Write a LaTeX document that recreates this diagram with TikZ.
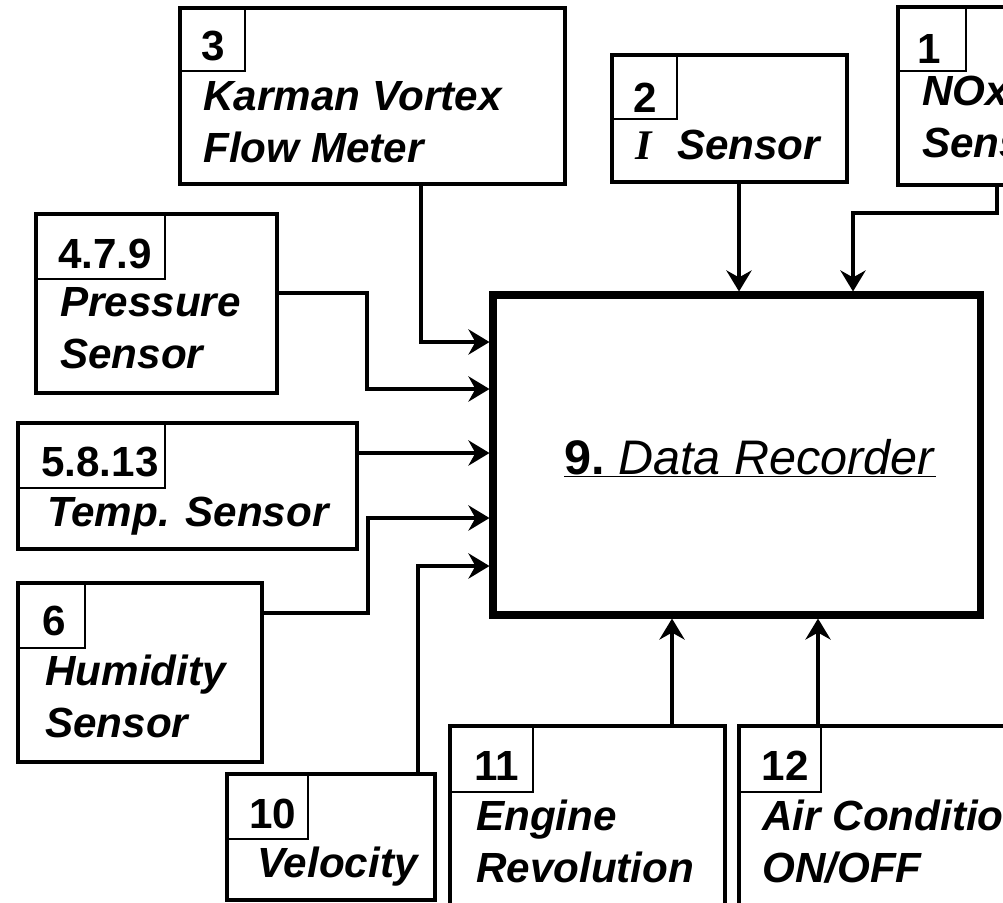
\documentclass[tikz,border=0pt]{standalone}
\usepackage{fontspec}
\setmainfont{Liberation Sans}
\newfontfamily\lamfont{Liberation Serif}
\usetikzlibrary{arrows.meta, fit, calc}

\begin{document}
\begin{tikzpicture}[x=0.025cm, y=-0.025cm,
  every node/.style={font=\fontsize{30}{36}\selectfont\bfseries},
  sensor/.style={draw, line width=2.4pt, inner sep=0pt},
  numcell/.style={draw, line width=1.4pt, inner sep=0pt},
  recorder/.style={draw, line width=5pt, inner sep=0pt},
  num/.style={anchor=base, inner sep=0pt},
  lbl/.style={anchor=base west, inner sep=0pt, align=left,
              font=\fontsize{30}{36.5}\selectfont\bfseries\itshape},
  conn/.style={line width=2.2pt, -{Stealth[length=15pt, width=18pt, inset=5pt]}}]

  \useasboundingbox (0,0) rectangle (1003,902);
  \clip (0,0) rectangle (1003,902);

  % ---------- Data recorder ----------
  \node[recorder, fit={(493,295) (980,615)}] (rec) {};
  \node[anchor=base, inner sep=0pt, font=\fontsize{34.5}{40}\selectfont] (rectxt) at (750,474)
    {\underline{\textbf{9.}\ \textit{Data Recorder}}};

  % ---------- Sensor boxes ----------
  % (two-line labels sit on the baseline of their last line)
  \node[sensor, fit={(180,8) (565,184)}] (kvf) {};
  \node[numcell, fit={(180,8) (245,71)}] (kvfcell) {};
  \node[num] (kvfno) at (213,60) {3};
  \node[lbl] (kvftxt) at (203,162) {Karman Vortex\\Flow Meter};

  \node[sensor, fit={(612,55) (847,182)}] (lam) {};
  \node[numcell, fit={(612,55) (677,119)}] (lamcell) {};
  \node[num] (lamno) at (645,112) {2};
  \node[lbl] (lamtxt) at (635,159) {{\lamfont I}\hspace{0.6em}Sensor};

  \node[sensor, fit={(898,7) (1060,185)}] (nox) {};
  \node[numcell, fit={(898,7) (966,71)}] (noxcell) {};
  \node[num] (noxno) at (929,63) {1};
  \node[lbl] (noxtxt) at (922,157) {NOx\\Sensor};

  \node[sensor, fit={(36,214) (277,393)}] (press) {};
  \node[numcell, fit={(36,214) (165,279)}] (presscell) {};
  \node[num] (pressno) at (105,268) {4.7.9};
  \node[lbl] (presstxt) at (60,368) {Pressure\\Sensor};

  \node[sensor, fit={(18,423) (357,549)}] (temp) {};
  \node[numcell, fit={(18,423) (165,488)}] (tempcell) {};
  \node[num] (tempno) at (100,476) {5.8.13};
  \node[lbl] (temptxt) at (47,526) {Temp. Sensor};

  \node[sensor, fit={(18,583) (262,762)}] (hum) {};
  \node[numcell, fit={(18,583) (85,648)}] (humcell) {};
  \node[num] (humno) at (54,635) {6};
  \node[lbl] (humtxt) at (45,737) {Humidity\\Sensor};

  \node[sensor, fit={(227,774) (435,900)}] (vel) {};
  \node[numcell, fit={(227,774) (308,839)}] (velcell) {};
  \node[num] (velno) at (273,828) {10};
  \node[lbl] (veltxt) at (257,877) {Velocity};

  \node[sensor, fit={(450,726) (725,960)}] (eng) {};
  \node[numcell, fit={(450,726) (533,792)}] (engcell) {};
  \node[num] (engno) at (497,780) {11};
  \node[lbl] (engtxt) at (476,882) {Engine\\Revolution};

  \node[sensor, fit={(739,726) (1100,960)}] (air) {};
  \node[numcell, fit={(739,726) (821,792)}] (aircell) {};
  \node[num] (airno) at (785,780) {12};
  \node[lbl] (airtxt) at (762,882) {Air Conditioner\\ON/OFF};

  % ---------- Connectors ----------
  \coordinate (k1) at (421,342);
  \coordinate (p1) at (367,293);
  \coordinate (p2) at (367,389);
  \coordinate (t1) at (400,453);
  \coordinate (h1) at (368,613);
  \coordinate (h2) at (368,518);
  \coordinate (v1) at (418,566);
  \coordinate (l1) at (739,240);
  \coordinate (n1) at (997,213);
  \coordinate (n2) at (853,213);
  \coordinate (e1) at (672,660);
  \coordinate (a1) at (818,660);

  \draw[conn] (kvf.south -| k1) |- (rec.west |- k1);
  \draw[conn] (press.east |- p1) -- (p1) -- (p2) -- (rec.west |- p2);
  \draw[conn] (temp.east |- t1) -- (rec.west |- t1);
  \draw[conn] (hum.east |- h1) -- (h1) -- (h2) -- (rec.west |- h2);
  \draw[conn] (vel.north -| v1) |- (rec.west |- v1);
  \draw[conn] (lam.south -| l1) -- (rec.north -| l1);
  \draw[conn] (nox.south -| n1) -- (n1) -- (n2) -- (rec.north -| n2);
  \draw[conn] (eng.north -| e1) -- (rec.south -| e1);
  \draw[conn] (air.north -| a1) -- (rec.south -| a1);
\end{tikzpicture}
\end{document}
